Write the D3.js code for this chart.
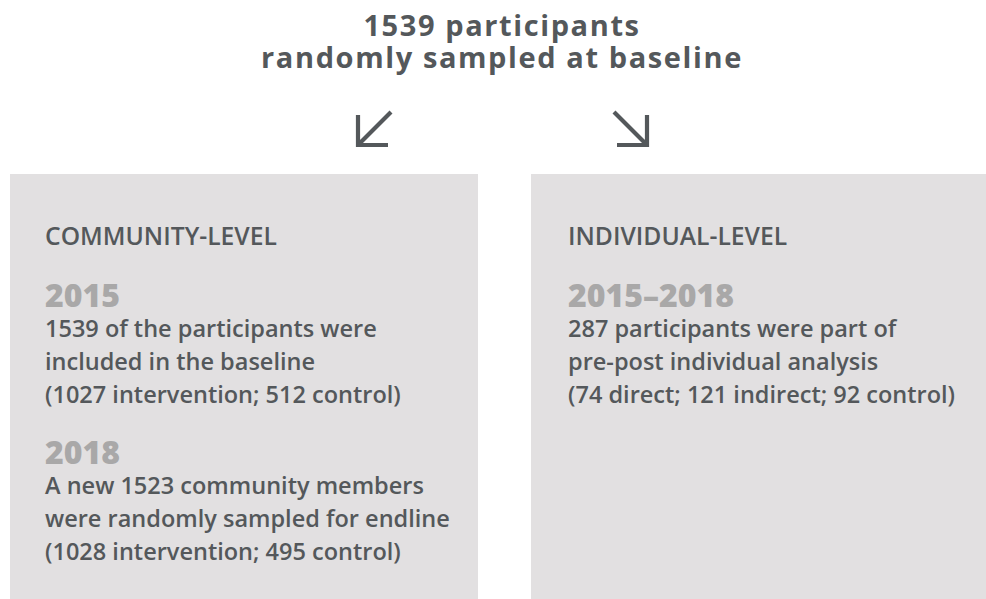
<!DOCTYPE html>
<html>
<head>
<meta charset="utf-8">
<script src="https://cdn.jsdelivr.net/npm/d3@7"></script>
<style>
  html, body { margin: 0; padding: 0; background: #ffffff; }
  svg { display: block; }
</style>
</head>
<body>
<svg id="chart" width="986" height="599"></svg>
<script>
// ---- data ----
const titleLines = ["1539 participants", "randomly sampled at baseline"];
const panelHeadings = ["COMMUNITY-LEVEL", "INDIVIDUAL-LEVEL"];
const leftSections = [
  { year: "2015", lines: ["1539 of the participants were", "included in the baseline", "(1027 intervention; 512 control)"] },
  { year: "2018", lines: ["A new 1523 community members", "were randomly sampled for endline", "(1028 intervention; 495 control)"] }
];
const rightSections = [
  { year: "2015\u20132018", lines: ["287 participants were part of", "pre-post individual analysis", "(74 direct; 121 indirect; 92 control)"] }
];
const arrowDirections = ["down-left", "down-right"];

// ---- styles ----
const W = 986, H = 599;
const dark = "#54585b", yearGray = "#a9a8a8", boxFill = "#e2e0e1";
const FONT = "'Open Sans', 'Noto Sans', sans-serif";

const svg = d3.select("#chart");

// fit font size so that a reference text reaches the target width
function fitSize(text, weight, target, base, spacing) {
  const t = svg.append("text").attr("font-family", FONT).attr("font-weight", weight)
    .attr("font-size", base).attr("letter-spacing", spacing || 0).text(text);
  const w = t.node().getComputedTextLength();
  t.remove();
  return base * target / w;
}

const titleSize = 29;
const titleSpacing = 1.6;
const headSize = fitSize(panelHeadings[0], 600, 232, 20);
const yearSize = fitSize(leftSections[0].year, 800, 75, 26);
const bodySize = fitSize(leftSections[0].lines[0], 600, 332, 22);

// ---- title (one text element, one tspan per line) ----
const titleY = d3.scalePoint().domain(titleLines).range([36, 68]);
svg.append("text")
  .attr("text-anchor", "middle")
  .attr("font-family", FONT).attr("font-weight", 700)
  .attr("font-size", titleSize).attr("letter-spacing", titleSpacing)
  .attr("fill", dark)
  .selectAll("tspan").data(titleLines).join("tspan")
  .attr("x", 502).attr("y", d => titleY(d))
  .text(d => d);

// ---- arrows ----
const arrowX = d3.scaleOrdinal().domain(arrowDirections).range([358, 614]);
svg.append("g").selectAll("path").data(arrowDirections).join("path")
  .attr("d", d => {
    const x0 = arrowX(d), top = 112, bot = 145, len = 33, head = 30;
    if (d === "down-left") {
      const tipX = x0, tipY = bot;
      return `M${tipX + len},${top} L${tipX},${tipY} M${tipX},${tipY - head} L${tipX},${tipY} L${tipX + head},${tipY}`;
    } else {
      const tipX = x0 + len, tipY = bot;
      return `M${x0},${top} L${tipX},${tipY} M${tipX},${tipY - head} L${tipX},${tipY} L${tipX - head},${tipY}`;
    }
  })
  .attr("fill", "none").attr("stroke", dark).attr("stroke-width", 4.2)
  .attr("stroke-linecap", "butt").attr("stroke-linejoin", "miter");

// ---- panels ----
const panels = [
  { x0: 10, x1: 478, tx: 45, heading: panelHeadings[0], sections: leftSections },
  { x0: 531, x1: 986, tx: 568, heading: panelHeadings[1], sections: rightSections }
];
const boxTop = 174;

const pg = svg.append("g").selectAll("g").data(panels).join("g");
pg.append("rect")
  .attr("x", d => d.x0).attr("y", boxTop)
  .attr("width", d => d.x1 - d.x0).attr("height", H - boxTop)
  .attr("fill", boxFill);

pg.append("text")
  .attr("x", d => d.tx).attr("y", 245)
  .attr("font-family", FONT).attr("font-weight", 600)
  .attr("font-size", headSize).attr("fill", dark)
  .text(d => d.heading);

const sectionGap = 157, lineGap = 33, yearBase = 307;
pg.each(function(p) {
  const g = d3.select(this);
  p.sections.forEach((s, i) => {
    const y0 = yearBase + i * sectionGap;
    g.append("text")
      .attr("x", p.tx).attr("y", y0)
      .attr("font-family", FONT).attr("font-weight", 800)
      .attr("font-size", yearSize).attr("fill", yearGray)
      .text(s.year);
    g.selectAll(null).data(s.lines).join("text")
      .attr("x", p.tx).attr("y", (d, j) => y0 + 30 + j * lineGap)
      .attr("font-family", FONT).attr("font-weight", 600)
      .attr("font-size", bodySize).attr("fill", dark)
      .text(d => d);
  });
});
</script>
</body>
</html>
